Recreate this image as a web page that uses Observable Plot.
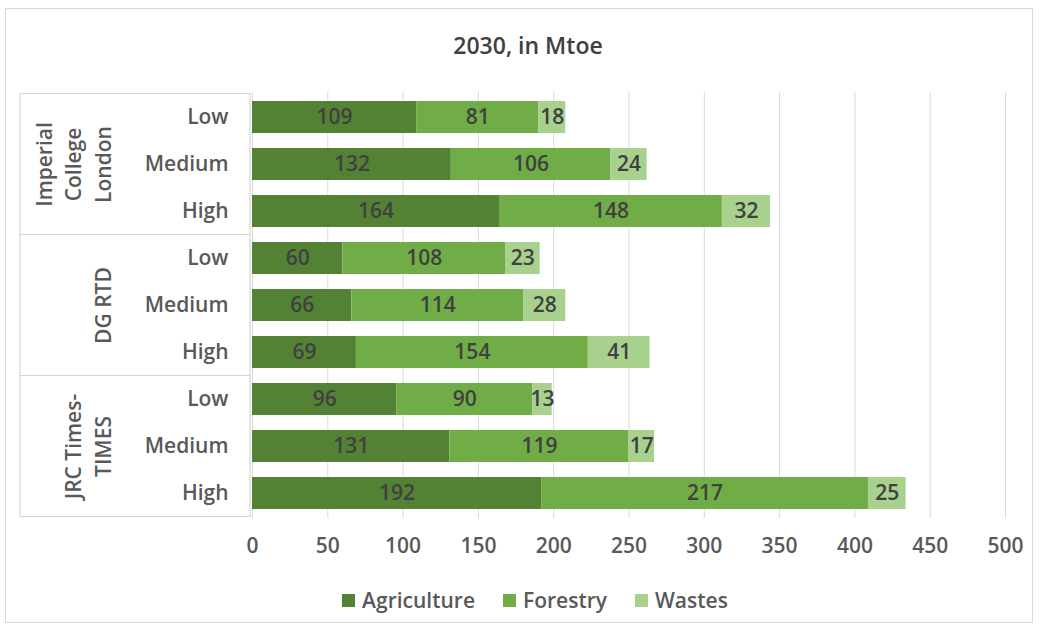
<!DOCTYPE html>
<html><head><meta charset="utf-8">
<script src="https://cdn.jsdelivr.net/npm/d3@7"></script>
<script src="https://cdn.jsdelivr.net/npm/@observablehq/plot@0.6"></script>
<style>
body{margin:0;background:#fff;font-family:"Open Sans",sans-serif;}
#wrap{position:relative;width:1040px;height:634px;overflow:hidden;background:#fff}
#frame{position:absolute;left:5px;top:8px;width:1028px;height:615px;border:1px solid #d9d9d9;box-sizing:border-box}
#title{position:absolute;top:29px;left:8px;width:1040px;text-align:center;font-size:23px;font-weight:600;color:#404040}
#chart{position:absolute;left:0;top:0}
#legend{position:absolute;top:586px;left:0;width:1070px;display:flex;justify-content:center;gap:28px;font-size:21px;font-weight:600;color:#595959}
#legend span.item{display:flex;align-items:center}
#legend i{display:inline-block;width:13px;height:13px;margin-right:7px}
</style></head>
<body>
<div id="wrap">
  <div id="frame"></div>
  <div id="chart"></div>
  <div id="title">2030, in Mtoe</div>
  <div id="legend"></div>
</div>
<script>
const groups = ["ICL", "DG", "JRC"];
const groupLabels = ["Imperial\nCollege\nLondon", "DG RTD", "JRC Times-\nTIMES"];
const levels = ["Low", "Medium", "High"];
const sources = ["Agriculture", "Forestry", "Wastes"];
const colors = ["#548235", "#70ad47", "#a9d18e"];
const agriculture = [109, 132, 164, 60, 66, 69, 96, 131, 192];
const forestry    = [81, 106, 148, 108, 114, 154, 90, 119, 217];
const wastes      = [18, 24, 32, 23, 28, 41, 13, 17, 25];
const xTicks = [0, 50, 100, 150, 200, 250, 300, 350, 400, 450, 500];

const keys = [];
groups.forEach(g => levels.forEach(l => keys.push(g + "|" + l)));
const series = [agriculture, forestry, wastes];
const data = [];
keys.forEach((k, i) => sources.forEach((s, j) => data.push({key: k, source: s, value: series[j][i]})));
const groupData = groups.map((g, i) => ({key: g + "|Medium", label: groupLabels[i]}));

const plot = Plot.plot({
  width: 1040, height: 634,
  marginTop: 92, marginBottom: 116, marginLeft: 252, marginRight: 35,
  style: {fontFamily: "Open Sans, sans-serif", fontSize: "21px", fontWeight: 600, color: "#595959", background: "transparent", overflow: "visible"},
  x: {domain: [0, 500], ticks: xTicks, tickSize: 0, tickPadding: 20, label: null},
  y: {domain: keys, paddingInner: 0.32, paddingOuter: 0.16, tickSize: 0, tickPadding: 24, tickFormat: k => k.split("|")[1], label: null},
  color: {domain: sources, range: colors},
  marks: [
    Plot.ruleX(xTicks, {stroke: "#d9d9d9", strokeWidth: 1}),
    Plot.barX(data, Plot.stackX({x: "value", y: "key", fill: "source", z: "source", order: sources})),
    Plot.text(data, Plot.stackX({x: "value", y: "key", z: "source", order: sources, text: d => String(d.value), fill: "#404040", fontSize: 21, fontWeight: 600})),
    Plot.text(groupData, {y: "key", text: "label", frameAnchor: "left", textAnchor: "middle", dx: -142, rotate: -90, lineAnchor: "bottom", lineHeight: 1.4, fill: "#595959", fontSize: 21, fontWeight: 600})
  ]
});
document.getElementById("chart").appendChild(plot);

// group box lines drawn via the plot's own y scale
const ys = plot.scale("y");
const half = (ys.step - ys.bandwidth) / 2;
const svg = d3.select(plot);
const left = 20, right = 250;
const bounds = groups.map(g => ys.apply(g + "|Low") - half);
const bottom = ys.apply(groups[groups.length - 1] + "|High") + ys.bandwidth + half;
bounds.push(bottom);
const gl = svg.append("g").attr("stroke", "#d4d4d4").attr("stroke-width", 1.2);
bounds.forEach(y => gl.append("line").attr("x1", left).attr("x2", right).attr("y1", y).attr("y2", y));
gl.append("line").attr("x1", left).attr("x2", left).attr("y1", bounds[0]).attr("y2", bottom);
gl.append("line").attr("x1", right).attr("x2", right).attr("y1", bounds[0]).attr("y2", bottom);

const lg = document.getElementById("legend");
sources.forEach((s, i) => {
  const it = document.createElement("span");
  it.className = "item";
  it.innerHTML = `<i style="background:${colors[i]}"></i>${s}`;
  lg.appendChild(it);
});
</script>
</body></html>
